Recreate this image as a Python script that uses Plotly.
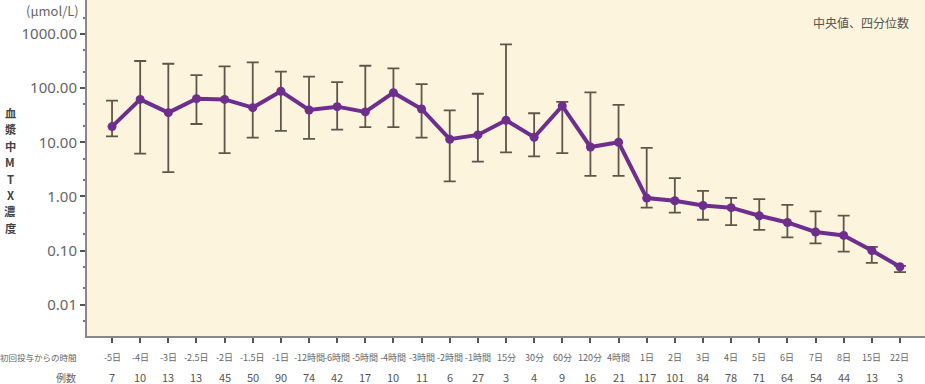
import plotly.graph_objects as go

categories = ["-5日", "-4日", "-3日", "-2.5日", "-2日", "-1.5日", "-1日", "-12時間", "-6時間", "-5時間",
              "-4時間", "-3時間", "-2時間", "-1時間", "15分", "30分", "60分", "120分", "4時間",
              "1日", "2日", "3日", "4日", "5日", "6日", "7日", "8日", "15日", "22日"]
counts = [7, 10, 13, 13, 45, 50, 90, 74, 42, 17, 10, 11, 6, 27, 3, 4, 9, 16, 21,
          117, 101, 84, 78, 71, 64, 54, 44, 13, 3]
median = [19.5, 62, 35.3, 64, 62, 43.7, 87.7, 39.6, 45.6, 36.4, 82.6, 41.3, 11.4, 13.7, 25.6,
          12.4, 47, 8.2, 10, 0.93, 0.83, 0.68, 0.62, 0.44, 0.33, 0.22, 0.19, 0.10, 0.050]
q3 = [59, 318, 283, 175, 254, 300, 202, 163, 130, 260, 233, 119, 39, 79, 646,
      34.4, 56, 84, 49, 7.9, 2.18, 1.27, 0.94, 0.89, 0.70, 0.53, 0.44, 0.117, 0.052]
q1 = [12.9, 6.2, 2.8, 21.8, 6.3, 12.2, 16.2, 11.6, 17.1, 19, 19, 12.2, 1.9, 4.4, 6.5,
      5.5, 6.3, 2.4, 2.4, 0.62, 0.50, 0.37, 0.295, 0.24, 0.175, 0.135, 0.095, 0.059, 0.040]
ytick_vals = [0.01, 0.1, 1, 10, 100, 1000]
ytick_text = ["0.01", "0.10", "1.00", "10.00", "100.00", "1000.00"]
y_title_chars = ["血", "漿", "中", "M", "T", "X", "濃", "度"]

xs = list(range(len(categories)))
err_plus = [u - m for u, m in zip(q3, median)]
err_minus = [m - l for m, l in zip(median, q1)]

fig = go.Figure()
fig.add_trace(go.Scatter(
    x=xs, y=median, mode="lines+markers",
    line=dict(color="#6E2E8E", width=4),
    marker=dict(color="#6E2E8E", size=9),
    error_y=dict(type="data", symmetric=False, array=err_plus, arrayminus=err_minus,
                 color="#5E564A", thickness=1.8, width=6),
    showlegend=False,
))

font_main = "Noto Sans CJK JP, Noto Sans, sans-serif"

annotations = []
for i, (c, n) in enumerate(zip(categories, counts)):
    annotations.append(dict(x=i, y=0, xref="x", yref="paper", text=c, showarrow=False,
                            yanchor="middle", yshift=-21,
                            font=dict(size=9, color="#666666", family=font_main)))
    annotations.append(dict(x=i, y=0, xref="x", yref="paper", text=str(n), showarrow=False,
                            yanchor="middle", yshift=-41,
                            font=dict(size=11, color="#555555", family=font_main)))
annotations.append(dict(x=0, y=0, xref="paper", yref="paper", text="初回投与からの時間",
                        showarrow=False, xanchor="right", yanchor="middle", xshift=-8, yshift=-21,
                        font=dict(size=8.5, color="#666666", family=font_main)))
annotations.append(dict(x=0, y=0, xref="paper", yref="paper", text="例数",
                        showarrow=False, xanchor="right", yanchor="middle", xshift=-9, yshift=-41,
                        font=dict(size=10, color="#666666", family=font_main)))
for k, ch in enumerate(y_title_chars):
    annotations.append(dict(x=0, y=1, xref="paper", yref="paper", text=f"<b>{ch}</b>",
                            showarrow=False, xanchor="center", yanchor="middle",
                            xshift=-77, yshift=-(113 + 16.4 * k), borderpad=0,
                            font=dict(size=11.3, color="#444444", family=font_main)))
annotations.append(dict(x=0, y=1, xref="paper", yref="paper", text="(μmol/L)",
                        showarrow=False, xanchor="right", yanchor="middle", xshift=-6, yshift=-10,
                        font=dict(size=13, color="#666666", family=font_main)))
annotations.append(dict(x=1, y=1, xref="paper", yref="paper", text="中央値、四分位数",
                        showarrow=False, xanchor="right", yanchor="middle", xshift=-14, yshift=-22,
                        font=dict(size=12, color="#555555", family=font_main)))

fig.update_layout(
    width=925, height=384,
    margin=dict(l=87, r=0, t=0, b=48),
    paper_bgcolor="white",
    plot_bgcolor="#FDF4DE",
    annotations=annotations,
    font=dict(family=font_main),
)
fig.update_xaxes(
    range=[-0.89, 28.89], tickvals=xs, ticktext=[""] * len(xs),
    ticks="outside", ticklen=5, tickwidth=2, tickcolor="#555555",
    showline=True, linecolor="#888888", linewidth=2,
    showgrid=False, zeroline=False,
)
fig.update_yaxes(
    type="log", range=[-2.58, 3.63],
    tickvals=ytick_vals, ticktext=ytick_text,
    ticks="outside", ticklen=5, tickwidth=2, tickcolor="#555555",
    tickfont=dict(size=15, color="#666666", family="Noto Sans, sans-serif"),
    showline=True, linecolor="#888888", linewidth=2,
    showgrid=False, zeroline=False,
    minor=dict(ticks="outside", ticklen=2, tickcolor="#777777", showgrid=False),
)

fig.write_html("out.html", config={"displayModeBar": False},
               post_script="document.body.style.margin='0';document.body.style.overflow='hidden';")
